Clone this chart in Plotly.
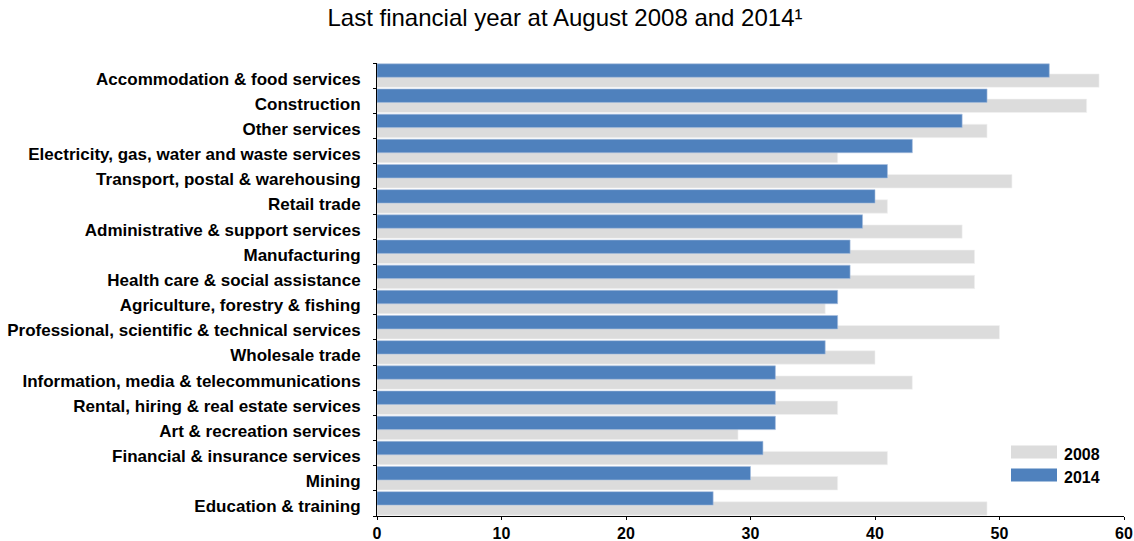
import plotly.graph_objects as go

# Industries, top to bottom
industries = [
    "Accommodation & food services",
    "Construction",
    "Other services",
    "Electricity, gas, water and waste services",
    "Transport, postal & warehousing",
    "Retail trade",
    "Administrative & support services",
    "Manufacturing",
    "Health care & social assistance",
    "Agriculture, forestry & fishing",
    "Professional, scientific & technical services",
    "Wholesale trade",
    "Information, media & telecommunications",
    "Rental, hiring & real estate services",
    "Art & recreation services",
    "Financial & insurance services",
    "Mining",
    "Education & training",
]
values_2008 = [58, 57, 49, 37, 51, 41, 47, 48, 48, 36, 50, 40, 43, 37, 29, 41, 37, 49]
values_2014 = [54, 49, 47, 43, 41, 40, 39, 38, 38, 37, 37, 36, 32, 32, 32, 31, 30, 27]
x_ticks = [0, 10, 20, 30, 40, 50, 60]

GREY = "#dcdcdc"
BLUE = "#4f81bd"
FONT = "Arial, Liberation Sans, sans-serif"

BAR_W = 0.535
SHIFT = 0.2

fig = go.Figure()
fig.add_trace(go.Bar(
    y=industries, x=values_2008, orientation="h", name="2008",
    marker=dict(color=GREY, line=dict(color="#f2f2f2", width=0.6)),
    width=BAR_W, offset=SHIFT - BAR_W / 2, showlegend=False,
))
fig.add_trace(go.Bar(
    y=industries, x=values_2014, orientation="h", name="2014",
    marker=dict(color=BLUE, line=dict(color="#a9c0de", width=0.6)),
    width=BAR_W, offset=-SHIFT - BAR_W / 2, showlegend=False,
))

# Legend drawn as wide swatches with labels
TOP, BOTTOM = 63, 25
plot_h = 541 - TOP - BOTTOM
def to_paper_y(py):
    return (541 - BOTTOM - py) / plot_h
px0, px1 = 377, 1124
def to_paper_x(px):
    return (px - px0) / (px1 - px0)

legend_items = [("2008", GREY, 452), ("2014", BLUE, 475)]
for label, color, yc in legend_items:
    fig.add_shape(type="rect", xref="paper", yref="paper",
                  x0=to_paper_x(1011), x1=to_paper_x(1057),
                  y0=to_paper_y(yc + 6.5), y1=to_paper_y(yc - 6.5),
                  fillcolor=color, line=dict(width=0))
    fig.add_annotation(x=to_paper_x(1062), y=to_paper_y(yc), xref="paper", yref="paper",
                       text="<b>%s</b>" % label, showarrow=False, xanchor="left",
                       yanchor="middle", yshift=-2,
                       font=dict(family=FONT, size=16, color="black"))

fig.update_layout(
    barmode="overlay",
    width=1134, height=541,
    margin=dict(l=377, r=10, t=TOP, b=BOTTOM),
    paper_bgcolor="white", plot_bgcolor="white",
    title=dict(text="Last financial year at August 2008 and 2014¹",
               x=565 / 1134, xanchor="center", y=1 - 18 / 541, yanchor="middle",
               font=dict(family=FONT, size=24, color="black")),
    font=dict(family=FONT, color="black"),
)
fig.update_xaxes(
    range=[0, 60], tickvals=x_ticks, ticktext=["<b>%d</b>" % v for v in x_ticks],
    showgrid=False, zeroline=False, showline=True, linecolor="black", linewidth=1.2,
    ticks="outside", ticklen=3, tickcolor="black", tickwidth=1,
    tickfont=dict(family=FONT, size=16, color="black"), automargin=False,
)
fig.update_yaxes(
    autorange="reversed", showgrid=False, zeroline=False,
    showline=True, linecolor="black", linewidth=1,
    ticks="outside", ticklen=3, tickcolor="black", tickson="boundaries",
    tickvals=industries, ticktext=["<b>%s</b>" % s for s in industries],
    tickfont=dict(family=FONT, size=17, color="black"), ticklabelstandoff=12,
    ticklabelshift=-3, automargin=False,
)

fig.write_html("out.html")
